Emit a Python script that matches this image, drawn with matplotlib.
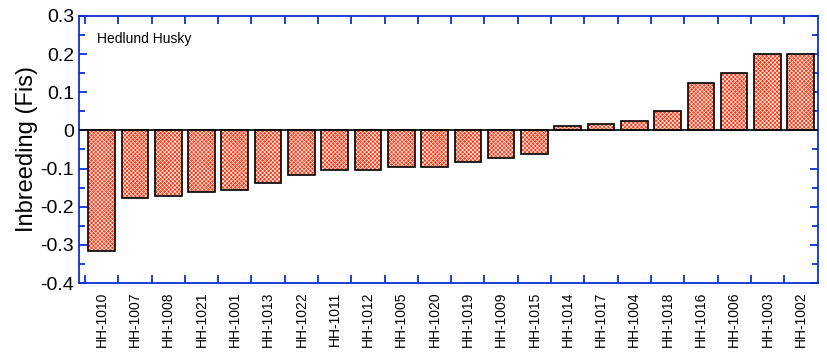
import matplotlib.pyplot as plt
from matplotlib.ticker import MultipleLocator, FixedLocator

plt.rcParams['font.family'] = ['Liberation Sans', 'DejaVu Sans']
plt.rcParams['hatch.linewidth'] = 0.5

dogs = ['HH-1010', 'HH-1007', 'HH-1008', 'HH-1021', 'HH-1001', 'HH-1013',
        'HH-1022', 'HH-1011', 'HH-1012', 'HH-1005', 'HH-1020', 'HH-1019',
        'HH-1009', 'HH-1015', 'HH-1014', 'HH-1017', 'HH-1004', 'HH-1018',
        'HH-1016', 'HH-1006', 'HH-1003', 'HH-1002']
fis = [-0.317, -0.178, -0.173, -0.162, -0.157, -0.139,
       -0.118, -0.105, -0.105, -0.097, -0.097, -0.084,
       -0.073, -0.063, 0.011, 0.016, 0.024, 0.050,
       0.123, 0.150, 0.200, 0.200]
yticks = [-0.4, -0.3, -0.2, -0.1, 0, 0.1, 0.2, 0.3]
ylabels = ['-0.4', '-0.3', '-0.2', '-0.1', '0', '0.1', '0.2', '0.3']

blue = '#0a32d2'

fig = plt.figure(figsize=(8.28, 3.53), dpi=100)
ax = fig.add_axes([0.0954, 0.198, 0.8926, 0.757])

x = list(range(len(dogs)))
# red fill with fine white crosshatch to imitate the checker pattern
ax.bar(x, fis, width=0.8, color='#ff3410', edgecolor='#fff4f0', linewidth=0,
       hatch='xxxxxxxx', zorder=2)
ax.bar(x, fis, width=0.8, fill=False, edgecolor='black', linewidth=1.2, zorder=3)
ax.axhline(0, color='black', linewidth=1.2, zorder=4)

ax.set_xlim(-0.68, 21.52)
ax.set_ylim(-0.4, 0.3)

ax.set_xticks(x)
ax.set_xticklabels(dogs, rotation=90, fontsize=10)
ax.xaxis.set_minor_locator(FixedLocator([i - 0.5 for i in x]))
ax.tick_params(axis='x', which='major', length=0, pad=6)
ax.tick_params(axis='x', which='minor', direction='in', length=6, width=1.3,
               color=blue, top=True, bottom=True)

ax.set_yticks(yticks)
ax.set_yticklabels(ylabels)
ax.yaxis.set_minor_locator(MultipleLocator(0.05))
ax.tick_params(axis='y', which='both', direction='in', color=blue,
               left=True, right=True, width=1.3, labelsize=14)
ax.tick_params(axis='y', which='major', length=6)
ax.tick_params(axis='y', which='minor', length=4)

for s in ax.spines.values():
    s.set_color(blue)
    s.set_linewidth(1.3)

ax.set_ylabel('Inbreeding (Fis)', fontsize=17, labelpad=2)
ax.text(0.025, 0.9, 'Hedlund Husky', transform=ax.transAxes, fontsize=10)

fig.savefig('out.png', dpi=100)
